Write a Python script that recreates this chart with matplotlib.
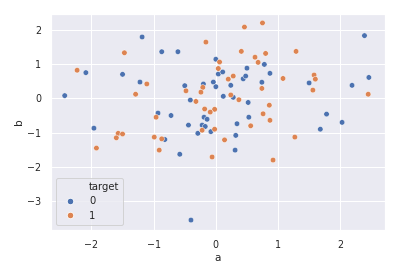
import matplotlib
matplotlib.use("Agg")
import matplotlib.pyplot as plt
from matplotlib.lines import Line2D
import seaborn as sns
import pandas as pd

a0 = [-1.185, -0.87, -0.61, 0.0, -2.09, -1.50, 0.04, 0.11, -1.22, -0.04, 0.0, -0.20, -0.50,
      -2.43, -0.41, -0.93, -0.72, -0.19, -0.14, -0.44, -0.22, -0.17, -0.08, -0.29, -1.96,
      -0.82, -0.58, -0.40, 2.39, 0.78, 0.50, 0.87, 0.44, 0.48, 0.24, 1.50, 2.46, 2.19, 0.74,
      0.12, 0.28, 0.52, 1.78, 0.53, 2.03, 0.34, 1.68, 0.32, 0.31]
b0 = [1.79, 1.36, 1.36, 1.14, 0.75, 0.70, 0.71, 0.77, 0.475, 0.475, 0.34, 0.42, 0.37,
      0.08, -0.05, -0.43, -0.50, -0.55, -0.61, -0.78, -0.78, -0.82, -0.97, -1.02, -0.87,
      -1.20, -1.63, -3.55, 1.83, 0.99, 0.88, 0.73, 0.57, 0.65, 0.38, 0.45, 0.61, 0.38, 0.47,
      0.06, 0.03, -0.12, -0.46, -0.55, -0.70, -0.74, -0.90, -1.08, -1.51]
a1 = [-0.16, -1.47, 0.06, -2.23, 0.04, -1.11, -0.21, -0.48, -0.24, -1.29, -0.32, -0.18,
      -0.02, -0.09, -0.96, -0.22, -0.02, -1.57, -1.50, -1.60, -0.99, -0.87, -1.92, -0.91,
      -0.06, 0.46, 0.75, 0.41, 0.80, 1.29, 0.63, 0.68, 0.20, 0.28, 1.08, 1.58, 1.60, 1.56,
      2.45, 0.74, 0.24, 0.37, 0.86, 0.76, 0.87, 0.56, 0.14, 1.27, 0.92]
b1 = [1.64, 1.33, 1.06, 0.82, 0.87, 0.42, 0.32, 0.22, 0.18, 0.12, -0.09, -0.31,
      -0.32, -0.40, -0.55, -0.93, -0.90, -1.02, -1.04, -1.15, -1.13, -1.18, -1.45, -1.51,
      -1.71, 2.08, 2.20, 1.37, 1.31, 1.37, 1.20, 1.05, 0.56, 0.65, 0.58, 0.68, 0.56, 0.24,
      0.12, 0.29, 0.10, -0.04, -0.20, -0.45, -0.64, -0.80, -1.21, -1.13, -1.80]
targets = ["0", "1"]
colors = ["#4C72B0", "#DD8452"]
xticks = [-2, -1, 0, 1, 2]
yticks = [-3, -2, -1, 0, 1, 2]

df = pd.DataFrame({
    "a": a0 + a1,
    "b": b0 + b1,
    "target": [0] * len(a0) + [1] * len(a1),
})

sns.set_theme(style="darkgrid")
plt.rcParams['font.family'] = ['DejaVu Sans']

fig = plt.figure(figsize=(397 / 72, 274 / 72), dpi=72)
ax = fig.add_axes([0.1285, 0.1617, 0.8413, 0.7872])
sns.scatterplot(data=df, x="a", y="b", hue="target", palette=colors,
                s=30, ax=ax, legend=False)
ax.set_xlim(-2.65, 2.72)
ax.set_ylim(-3.83, 2.46)
ax.set_xticks(xticks)
ax.set_yticks(yticks)
ax.tick_params(labelsize=9.5, pad=4)
ax.set_xlabel("a", fontsize=10.5, labelpad=3)
ax.set_ylabel("b", fontsize=10.5, labelpad=3)

handles = [Line2D([], [], linestyle="none", marker="none")]
for c in colors:
    handles.append(Line2D([], [], linestyle="none", marker="o", markersize=6.5,
                          markerfacecolor=c, markeredgecolor="white", markeredgewidth=0.8))
labels = ["target"] + targets
leg = ax.legend(handles, labels, loc="lower left", fontsize=10, handletextpad=0.9,
                labelspacing=0.45)
fig.savefig("out.png", dpi=72)
